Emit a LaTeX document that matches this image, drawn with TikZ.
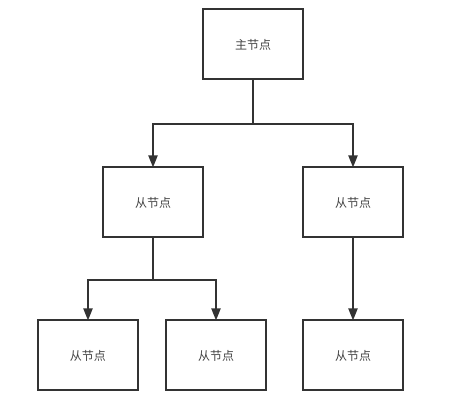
\documentclass[tikz,border=0pt]{standalone}
\usepackage{fontspec}
\newfontfamily\cjk{Noto Sans CJK SC}
\usetikzlibrary{arrows.meta, positioning}
\definecolor{linegray}{HTML}{333333}
\definecolor{textgray}{HTML}{444444}

\begin{document}
\begin{tikzpicture}[x=1pt,y=-1pt,>={Triangle[width=9pt,length=12pt]},
    treebox/.style={draw=linegray,line width=2pt,minimum width=100pt,minimum height=70pt,
      inner sep=0pt,outer sep=0pt,font=\cjk\fontsize{12}{14}\selectfont,text=textgray},
    link/.style={draw=linegray,line width=2pt,->}]
    % page size
    \useasboundingbox (0,0) rectangle (464,406);

    % draw the boxes
    \node[treebox] (main) at (253,44.5) {主节点};
    \node[treebox] (left) at (153,202.5) {从节点};
    \node[treebox] (right) at (353,202.5) {从节点};
    \node[treebox] (leftA) at (88,355.5) {从节点};
    \node[treebox] (leftB) at (216,355.5) {从节点};
    \node[treebox] (rightA) at (353,355.5) {从节点};

    % the junctions
    \coordinate (jmain) at (253,124);
    \coordinate (jleft) at (153,280);

    % draw the connectors
    \draw[link] (main.south) -- (jmain) -| (left.north);
    \draw[link] (jmain) -| (right.north);
    \draw[link] (left.south) -- (jleft) -| (leftA.north);
    \draw[link] (jleft) -| (leftB.north);
    \draw[link] (right.south) -- (rightA.north);
  \end{tikzpicture}
\end{document}
